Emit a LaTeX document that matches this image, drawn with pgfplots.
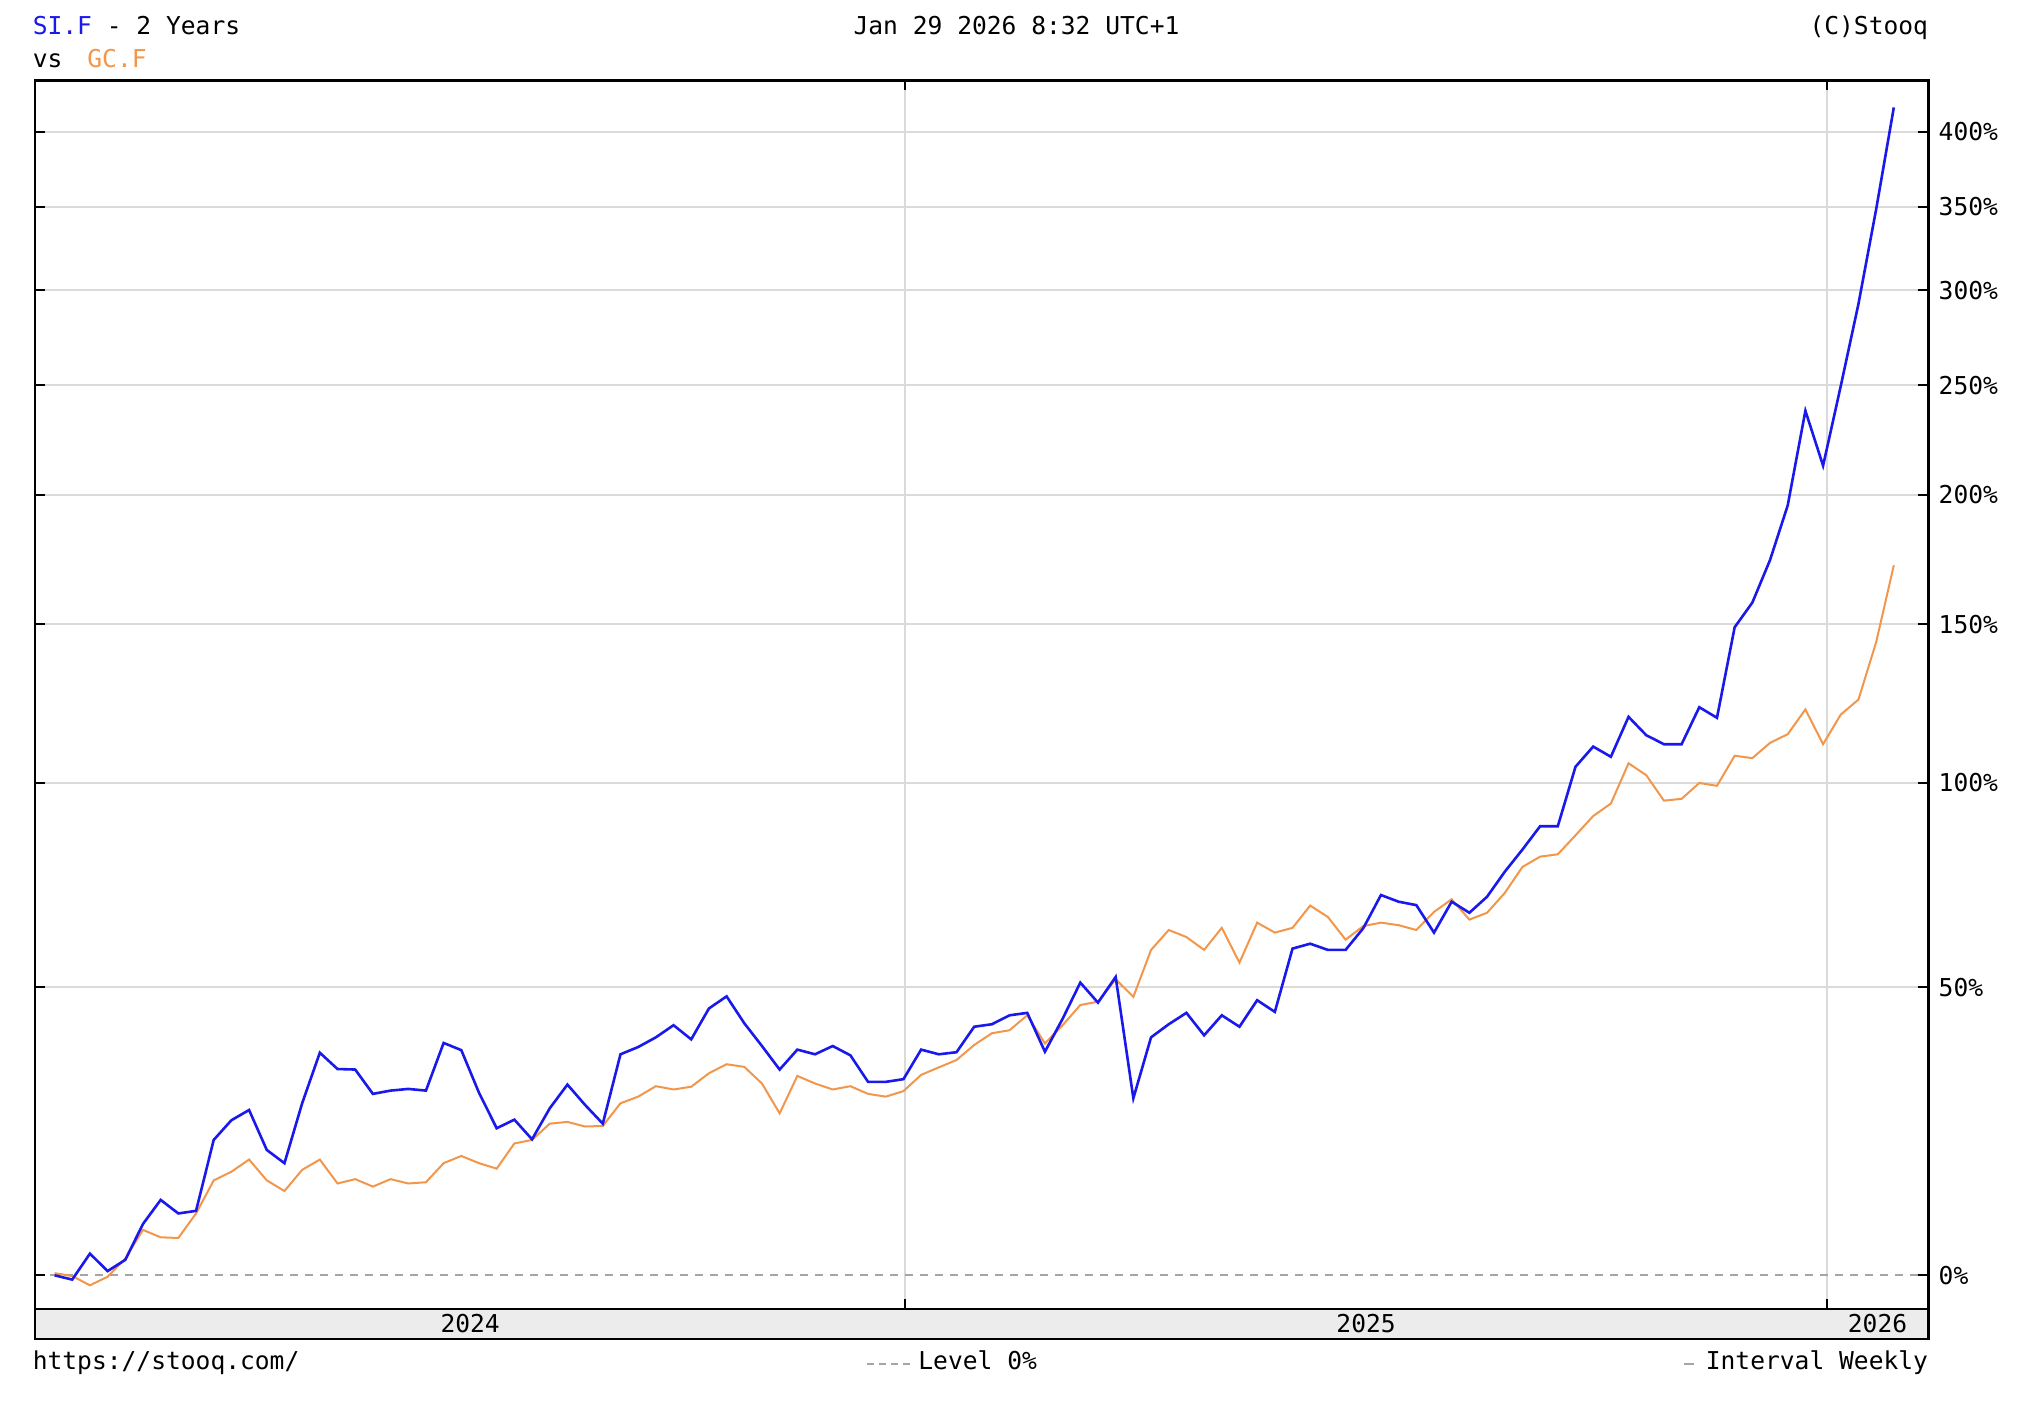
\documentclass[border=0pt]{standalone}
\usepackage{pgfplots}
\pgfplotsset{compat=1.18}
\usepackage{pgfplotstable}
\usepackage{fontspec}
\setmainfont{DejaVu Sans Mono}
\setmonofont{DejaVu Sans Mono}
\definecolor{siblue}{RGB}{25,25,235}
\definecolor{gcorange}{RGB}{242,150,75}
\definecolor{gridgray}{RGB}{218,218,218}
\definecolor{bargray}{RGB}{236,236,236}
\definecolor{levelgray}{RGB}{165,165,165}

\pgfplotstableread{
i si gc
0 0.0 0.3
1 -0.6 -0.1
2 3.1 -1.4
3 0.6 -0.2
4 2.2 2.4
5 7.5 6.6
6 11.2 5.5
7 9.1 5.4
8 9.5 9.1
9 21.0 14.3
10 24.4 15.7
11 26.2 17.7
12 19.3 14.3
13 17.1 12.6
14 27.4 16.0
15 36.8 17.7
16 33.7 13.8
17 33.6 14.5
18 29.1 13.3
19 29.7 14.5
20 30.0 13.8
21 29.7 14.0
22 38.7 17.1
23 37.3 18.3
24 29.3 17.1
25 23.0 16.2
26 24.5 20.4
27 21.1 21.0
28 26.5 23.8
29 30.8 24.1
30 27.1 23.3
31 23.8 23.4
32 36.5 27.4
33 37.9 28.6
34 39.8 30.5
35 42.2 29.9
36 39.4 30.4
37 45.6 32.9
38 48.1 34.6
39 42.6 34.1
40 38.1 31.0
41 33.6 25.6
42 37.4 32.4
43 36.5 31.0
44 38.1 29.9
45 36.3 30.5
46 31.3 29.1
47 31.3 28.6
48 31.8 29.6
49 37.4 32.6
50 36.5 34.0
51 36.9 35.4
52 41.9 38.3
53 42.4 40.6
54 44.2 41.2
55 44.7 44.2
56 37.0 38.6
57 43.5 42.2
58 51.0 46.3
59 46.8 47.0
60 52.2 51.7
61 28.3 48.0
62 39.8 58.1
63 42.4 62.6
64 44.7 61.0
65 40.2 58.1
66 44.2 63.1
67 41.9 55.3
68 47.3 64.3
69 44.9 62.0
70 58.4 63.1
71 59.5 68.3
72 58.1 65.6
73 58.1 60.4
74 63.0 63.5
75 70.8 64.3
76 69.2 63.7
77 68.4 62.6
78 62.0 66.8
79 69.2 69.8
80 66.6 65.0
81 70.4 66.6
82 76.5 71.3
83 82.1 77.7
84 88.2 80.3
85 88.2 80.9
86 104.6 85.8
87 110.5 90.9
88 107.5 94.3
89 119.5 105.6
90 113.9 102.2
91 111.2 95.1
92 111.2 95.6
93 122.5 100.0
94 119.2 99.2
95 149.0 107.8
96 157.8 107.1
97 173.7 111.6
98 195.6 114.2
99 237.7 121.8
100 212.6 111.2
101 249.7 120.2
102 292.6 124.9
103 348.4 143.8
104 417.6 171.7
}\data

\newcommand{\cfont}{\fontsize{12.3}{14}\selectfont}

\begin{document}
\begin{tikzpicture}[font=\cfont]
\useasboundingbox (0pt,0pt) rectangle (1018pt,710pt);
% date bar under the plot
\fill[bargray] (17.55pt,40.6pt) rectangle (964.15pt,55.5pt);
\draw[line width=1.2pt] (17.55pt,55.5pt) -- (17.55pt,40.6pt) -- (964.15pt,40.6pt) -- (964.15pt,55.5pt);
\begin{axis}[
  at={(17.55pt,55.5pt)}, anchor=south west,
  scale only axis, width=946.6pt, height=614.25pt,
  xmin=-1.10, xmax=105.95,
  ymode=log, ymin=0.9537, ymax=5.376,
  axis line style={line width=1.2pt, black},
  tick align=inside,
  major tick length=5pt,
  tick style={black, line width=1pt},
  xtick={48.09,100.22}, xticklabels={,},
  xmajorgrids, ymajorgrids,
  major grid style={gridgray, line width=1pt},
  ytick={1.5,2,2.5,3,3.5,4,4.5,5},
  yticklabels={50\%,100\%,150\%,200\%,250\%,300\%,350\%,400\%},
  extra y ticks={1}, extra y tick labels={0\%},
  extra y tick style={major grid style={levelgray, line width=1pt, dash pattern=on 4pt off 3.5pt}},
  extra x ticks={23.5,74.16,103.08},
  extra x tick labels={2024,2025,2026},
  extra x tick style={xmajorgrids=false, major tick length=0pt,
    xticklabel style={anchor=center, yshift=-7.5pt}},
  yticklabel pos=right, ytick pos=both,
  tick label style={font=\cfont},
  yticklabel style={anchor=west, inner sep=0pt, xshift=5pt},
]
\addplot[gcorange, line width=1pt, mark=none] table[x=i, y expr=1+\thisrow{gc}/100] {\data};
\addplot[siblue, line width=1.3pt, mark=none] table[x=i, y expr=1+\thisrow{si}/100] {\data};
\end{axis}
% header
\node[anchor=base west, inner sep=0pt] at (16.2pt,692.5pt) {\textcolor{siblue}{SI.F} - 2 Years};
\node[anchor=base west, inner sep=0pt] at (16.2pt,676.2pt) {vs};
\node[anchor=base west, inner sep=0pt, text=gcorange] at (43.5pt,676.2pt) {GC.F};
\node[anchor=base west, inner sep=0pt] at (426.6pt,692.5pt) {Jan 29 2026 8:32 UTC+1};
\node[anchor=base east, inner sep=0pt] at (964.2pt,692.5pt) {(C)Stooq};
% footer
\node[anchor=base west, inner sep=0pt] at (16.2pt,25pt) {https://stooq.com/};
\draw[levelgray, line width=1pt, dash pattern=on 3.5pt off 2.5pt] (433.7pt,28.2pt) -- (456pt,28.2pt);
\node[anchor=base west, inner sep=0pt] at (459pt,25pt) {Level 0\%};
\draw[levelgray, line width=1pt] (842pt,28.2pt) -- (847pt,28.2pt);
\node[anchor=base east, inner sep=0pt] at (964.2pt,25pt) {Interval Weekly};
\end{tikzpicture}
\end{document}
